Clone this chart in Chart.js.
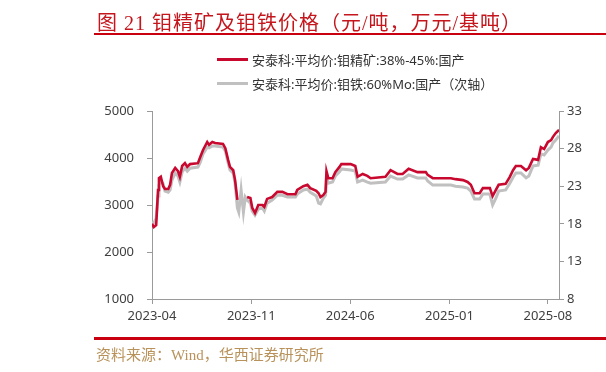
<!DOCTYPE html>
<html>
<head>
<meta charset="utf-8">
<script src="https://cdn.jsdelivr.net/npm/chart.js@4.4.1/dist/chart.umd.min.js"></script>
<style>
  html, body { margin: 0; padding: 0; background: #fff; }
  #wrap { position: relative; width: 606px; height: 372px; overflow: hidden; }
  #chart { position: absolute; left: 0; top: 0; }
  .title {
    position: absolute; left: 97px; top: 7px;
    font: 20px 'Liberation Serif', 'Noto Sans CJK SC', serif;
    letter-spacing: 1px;
    color: #c4161c; white-space: nowrap;
  }
  .rule { position: absolute; left: 94px; right: 0; background: #c8000f; }
  .source {
    position: absolute; left: 96px; top: 343px;
    font: 15px 'Liberation Serif', 'Noto Sans CJK SC', serif;
    color: #b8925a; white-space: nowrap;
  }
  .legend { position: absolute; left: 217px; top: 47px; font: 13px 'Noto Sans', 'Noto Sans CJK SC', sans-serif; color: #333; }
  .legend .item { height: 24px; display: flex; align-items: center; white-space: nowrap; }
  .legend .swatch { width: 31px; height: 3px; margin-right: 4px; }
</style>
</head>
<body>
<div id="wrap">
  <canvas id="chart" width="606" height="372"></canvas>
  <div class="title">图 21 钼精矿及钼铁价格（元/吨，万元/基吨）</div>
  <div class="rule" style="top:33px;height:2px"></div>
  <div class="legend" id="legend"></div>
  <div class="rule" style="top:337px;height:3px"></div>
  <div class="source">资料来源：Wind，华西证券研究所</div>
</div>
<script>
const dates = [
  '2023-04-01','2023-04-05','2023-04-10','2023-04-14','2023-04-16','2023-04-20','2023-04-25','2023-04-29',
  '2023-05-06','2023-05-10','2023-05-14','2023-05-21','2023-05-27','2023-05-31','2023-06-05','2023-06-11',
  '2023-06-16','2023-06-22','2023-07-09','2023-07-14','2023-07-20','2023-07-29','2023-08-02','2023-08-09',
  '2023-08-15','2023-09-01','2023-09-06','2023-09-12','2023-09-16','2023-09-23','2023-09-27','2023-10-02',
  '2023-10-05','2023-10-10','2023-10-15','2023-10-19','2023-10-23','2023-10-30','2023-11-03','2023-11-09',
  '2023-11-16','2023-11-25','2023-11-29','2023-12-05','2023-12-16','2023-12-27','2024-01-07','2024-01-18',
  '2024-02-04','2024-02-08','2024-02-21','2024-03-01','2024-03-07','2024-03-20','2024-03-25','2024-03-29',
  '2024-04-04','2024-04-09','2024-04-11','2024-04-15','2024-04-24','2024-04-30','2024-05-09','2024-05-13',
  '2024-06-02','2024-06-12','2024-06-17','2024-06-28','2024-07-08','2024-07-15','2024-08-16','2024-08-27',
  '2024-09-11','2024-09-22','2024-10-05','2024-10-24','2024-11-11','2024-11-15','2024-11-26','2025-01-04',
  '2025-01-14','2025-01-30','2025-02-09','2025-02-16','2025-02-24','2025-03-07','2025-03-14','2025-03-29',
  '2025-04-04','2025-04-11','2025-04-17','2025-05-02','2025-05-11','2025-05-18','2025-05-24','2025-06-04',
  '2025-06-15','2025-06-21','2025-06-30','2025-07-11','2025-07-17','2025-07-24','2025-08-01','2025-08-08',
  '2025-08-12','2025-08-18','2025-08-25'
];

// 钼精矿 38%-45%, 元/吨 (left axis)
const moConc = [
  2600, 2530, 2570, 3320, 3570, 3600, 3400, 3340,
  3340, 3430, 3680, 3790, 3720, 3600, 3830, 3890,
  3810, 3870, 3890, 4020, 4170, 4340, 4280, 4340,
  4320, 4300, 4210, 3960, 3810, 3740, 3530, 3110,
  null, null, null, null, 3170, 3150, 2940, 2830,
  3000, 3000, 2960, 3130, 3170, 3280, 3280, 3230,
  3230, 3320, 3400, 3430, 3360, 3300, 3250, 3170,
  3210, 3280, 3720, 3570, 3570, 3700, 3810, 3870,
  3870, 3830, 3600, 3660, 3620, 3570, 3600, 3740,
  3660, 3660, 3770, 3700, 3700, 3640, 3570, 3570,
  3550, 3530, 3490, 3430, 3250, 3250, 3360, 3360,
  3190, 3320, 3430, 3450, 3600, 3740, 3830, 3830,
  3740, 3790, 3980, 3960, 4230, 4190, 4340, 4380,
  4450, 4530, 4600
];

// 钼铁 60%Mo, 万元/基吨 (right axis)
const moFe = [
  18.25, 18.1, 18.75, 21.7, 23.15, 23.8, 23.3, 22.35,
  22.2, 22.5, 23.8, 24.75, 24.35, 23.55, 24.9, 25.4,
  25.0, 25.4, 25.55, 26.2, 27.3, 28.2, 28.1, 28.35,
  28.35, 28.2, 27.7, 26.1, 25.15, 24.75, 23.4, 20.1,
  19.55, 22.5, 19.55, 21.55, 21.15, 20.75, 19.7, 19.15,
  19.95, 20.1, 19.7, 20.75, 21.15, 21.8, 21.8, 21.55,
  21.55, 21.95, 22.5, 22.6, 22.2, 21.7, 20.75, 20.65,
  21.4, 21.8, 24.1, 23.4, 23.55, 24.35, 24.9, 25.3,
  25.15, 25.0, 23.55, 23.8, 23.55, 23.4, 23.55, 24.35,
  23.95, 23.95, 24.5, 24.1, 24.1, 23.7, 23.15, 23.15,
  23.0, 22.9, 22.75, 22.35, 21.3, 21.3, 21.95, 21.95,
  20.5, 21.4, 22.35, 22.5, 23.4, 24.2, 24.75, 24.75,
  24.1, 24.35, 25.7, 25.8, 27.3, 27.15, 27.8, 28.2,
  28.75, 29.15, 29.7
];

const xTickLabels = ['2023-04', '2023-11', '2024-06', '2025-01', '2025-08'];
const seriesNames = ['安泰科:平均价:钼精矿:38%-45%:国产', '安泰科:平均价:钼铁:60%Mo:国产（次轴）'];

const RED  = '#c8082f';
const GREY = '#c0c0c0';
const AXIS = '#9a9a9a';
const TEXT = '#404040';

const BASE = Date.UTC(2023, 3, 1);
function dayOf(s) {
  const p = s.split('-').map(Number);
  return (Date.UTC(p[0], p[1] - 1, p[2] || 1) - BASE) / 86400000;
}
const days = dates.map(dayOf);
const tickDays = xTickLabels.map(dayOf);

const font = { family: "'Noto Sans', sans-serif", size: 13 };

// legend
document.getElementById('legend').innerHTML = seriesNames.map((n, i) => `
  <div class="item"><span class="swatch" style="background:${i ? GREY : RED}"></span>${n}</div>`).join('');

new Chart(document.getElementById('chart'), {
  type: 'line',
  data: {
    datasets: [
      {
        label: seriesNames[0],
        data: days.map((d, i) => ({ x: d, y: moConc[i] })),
        yAxisID: 'y',
        borderColor: RED,
        borderWidth: 2.6,
        pointRadius: 0,
        tension: 0,
        spanGaps: false,
      },
      {
        label: seriesNames[1],
        data: days.map((d, i) => ({ x: d, y: moFe[i] })),
        yAxisID: 'y2',
        borderColor: GREY,
        borderWidth: 3,
        pointRadius: 0,
        tension: 0,
      }
    ]
  },
  options: {
    responsive: false,
    animation: false,
    devicePixelRatio: 1,
    layout: { padding: { top: 111, left: 0, right: 0, bottom: 0 } },
    plugins: { legend: { display: false }, tooltip: { enabled: false } },
    scales: {
      x: {
        type: 'linear',
        min: 0,
        max: days[days.length - 1],
        afterBuildTicks: s => { s.ticks = tickDays.map(v => ({ value: v })); },
        afterFit: s => { s.height = 73; },
        grid: { drawOnChartArea: false, tickLength: 5, tickColor: AXIS },
        border: { color: AXIS, width: 1 },
        ticks: {
          color: TEXT, font, padding: 4, maxRotation: 0, autoSkip: false,
          callback: v => xTickLabels[tickDays.indexOf(v)] || ''
        }
      },
      y: {
        position: 'left',
        min: 1000, max: 5000,
        afterFit: s => { s.width = 152; },
        grid: { drawOnChartArea: false, tickLength: 5, tickColor: AXIS },
        border: { color: AXIS, width: 1 },
        ticks: { stepSize: 1000, color: TEXT, font, padding: 13, callback: v => String(v) }
      },
      y2: {
        position: 'right',
        min: 8, max: 33,
        afterFit: s => { s.width = 47; },
        grid: { drawOnChartArea: false, tickLength: 5, tickColor: AXIS },
        border: { color: AXIS, width: 1 },
        ticks: { stepSize: 5, color: TEXT, font, padding: 3, callback: v => String(v) }
      }
    }
  }
});
</script>
</body>
</html>
